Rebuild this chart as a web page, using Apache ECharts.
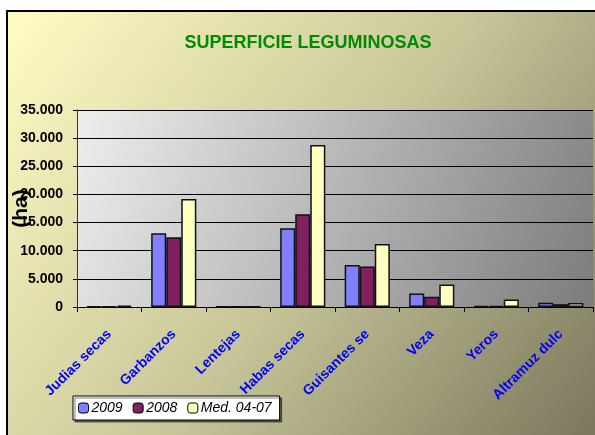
<!DOCTYPE html>
<html>
<head>
<meta charset="utf-8">
<script src="https://cdn.jsdelivr.net/npm/echarts@6/dist/echarts.min.js"></script>
<style>
  html, body { margin: 0; padding: 0; background: #fff; }
  #chart { width: 595px; height: 435px; }
</style>
</head>
<body>
<div id="chart"></div>
<script>
// datos (ha)
const categorias = ['Judias secas', 'Garbanzos', 'Lentejas', 'Habas secas', 'Guisantes secos', 'Veza', 'Yeros', 'Altramuz dulce'];
const serie2009 = [100, 13100, 50, 14000, 7450, 2400, 150, 750];
const serie2008 = [100, 12400, 50, 16500, 7200, 1800, 150, 500];
const serieMedia = [250, 19200, 60, 28800, 11200, 4000, 1350, 700];
const nombresSeries = ['2009', '2008', 'Med. 04-07'];
const coloresSeries = ['#8080ff', '#802060', '#ffffc0'];

const chart = echarts.init(document.getElementById('chart'));

const fmtMiles = (v) => String(v).replace(/\B(?=(\d{3})+(?!\d))/g, '.');

const mkSerie = (i, datos) => ({
  name: nombresSeries[i],
  type: 'bar',
  data: datos,
  barGap: '0%',
  barCategoryGap: '30%',
  itemStyle: { color: coloresSeries[i], borderColor: '#111', borderWidth: 1.5 }
});

const option = {
  animation: false,
  textStyle: { fontFamily: 'Liberation Sans, Arial, sans-serif' },
  graphic: [{
    type: 'rect',
    z: -10,
    shape: { x: 7, y: 11, width: 600, height: 440 },
    style: {
      stroke: '#000',
      lineWidth: 2,
      fill: new echarts.graphic.LinearGradient(0, 0, 1, 1, [
        { offset: 0, color: '#fffcc4' },
        { offset: 0.5, color: '#c9c79a' },
        { offset: 1, color: '#76735a' }
      ])
    }
  }],
  title: {
    text: 'SUPERFICIE LEGUMINOSAS',
    left: 303,
    textAlign: 'center',
    top: 29,
    textStyle: { color: '#008c00', fontSize: 18, fontWeight: 'bold', fontFamily: 'Liberation Sans Narrow, Liberation Sans, Arial' }
  },
  legend: {
    left: 73,
    top: 396,
    itemWidth: 10,
    itemHeight: 10,
    itemGap: 10,
    padding: [5, 8, 5, 5],
    backgroundColor: '#fff',
    borderColor: '#000',
    borderWidth: 1,
    shadowColor: 'rgba(0,0,0,0.5)',
    shadowOffsetX: 2,
    shadowOffsetY: 2,
    textStyle: { fontSize: 14, fontStyle: 'italic', color: '#000', padding: [0, 0, 0, -2], fontFamily: 'Liberation Sans Narrow, Liberation Sans, Arial' },
    itemStyle: { borderColor: '#000', borderWidth: 1 },
    data: nombresSeries
  },
  grid: {
    left: 77, right: 2, top: 110, bottom: 128,
    outerBoundsMode: 'none',
    containLabel: false,
    show: true,
    borderWidth: 0,
    backgroundColor: new echarts.graphic.LinearGradient(0, 0, 1, 1, [
      { offset: 0, color: '#eeeeee' },
      { offset: 1, color: '#7c7c7c' }
    ])
  },
  xAxis: {
    type: 'category',
    data: categorias,
    axisLine: { lineStyle: { color: '#000', width: 1 } },
    axisTick: { show: true, length: 5, lineStyle: { color: '#000' } },
    axisLabel: {
      rotate: 45,
      margin: 25,
      color: '#0000ff',
      fontWeight: 'bold',
      fontSize: 14,
      width: 96,
      overflow: 'truncate',
      ellipsis: ''
    }
  },
  yAxis: {
    type: 'value',
    min: 0,
    max: 35000,
    interval: 5000,
    name: '(ha)',
    nameLocation: 'middle',
    nameGap: 45,
    nameMoveOverlap: false,
    nameRotate: 90,
    nameTextStyle: { fontSize: 21, fontWeight: 'bold', color: '#000' },
    axisLine: { show: true, lineStyle: { color: '#333' } },
    axisTick: { show: true, length: 4, lineStyle: { color: '#000' } },
    axisLabel: { color: '#000', fontWeight: 'bold', fontSize: 14, margin: 14, formatter: fmtMiles },
    splitLine: { lineStyle: { color: '#000', width: 1 } }
  },
  series: [
    mkSerie(0, serie2009),
    mkSerie(1, serie2008),
    mkSerie(2, serieMedia)
  ]
};

chart.setOption(option);
</script>
</body>
</html>
